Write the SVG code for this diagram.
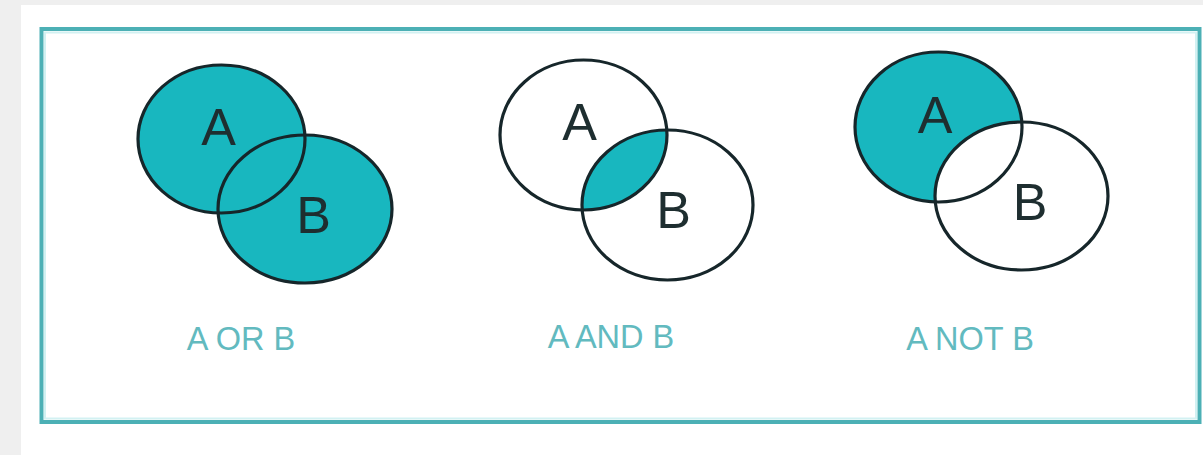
<svg xmlns="http://www.w3.org/2000/svg" width="1203" height="455" viewBox="0 0 1203 455">
<style>
.fill{fill:#18b7bf}
.ring{fill:none;stroke:#16262a;stroke-width:3.2}
.letter{font-family:"Liberation Sans",Arial,sans-serif;font-size:52px;text-anchor:middle;fill:#1e2e30}
.cap{font-family:"Liberation Sans",Arial,sans-serif;font-size:32.5px;text-anchor:middle;fill:#62babf}
</style>
<defs>
<clipPath id="clipAndA"><ellipse cx="583.5" cy="135" rx="83.5" ry="75"/></clipPath>
<clipPath id="clipNotA"><ellipse cx="938.5" cy="127" rx="83.5" ry="75"/></clipPath>
</defs>
<rect x="0" y="0" width="1203" height="455" fill="#efefef"/>
<rect x="21" y="5" width="1182" height="450" fill="#ffffff"/>
<g id="frame">
<rect x="41.5" y="29" width="1158" height="393" fill="none" stroke="#4cb0b5" stroke-width="4"/>
<rect x="45" y="32.5" width="1151" height="386" fill="none" stroke="#d2f1f2" stroke-width="2"/>
</g>
<g id="or">
<ellipse class="fill" cx="221.5" cy="139" rx="83.5" ry="74"/>
<ellipse class="fill" cx="305" cy="209" rx="87" ry="74"/>
<ellipse class="ring" cx="221.5" cy="139" rx="83.5" ry="74"/>
<ellipse class="ring" cx="305" cy="209" rx="87" ry="74"/>
<text class="letter" x="218.5" y="145">A</text>
<text class="letter" x="313.5" y="233">B</text>
<text class="cap" x="241" y="350">A OR B</text>
</g>
<g id="and">
<ellipse class="fill" cx="667.5" cy="205" rx="85.5" ry="75" clip-path="url(#clipAndA)"/>
<ellipse class="ring" cx="583.5" cy="135" rx="83.5" ry="75"/>
<ellipse class="ring" cx="667.5" cy="205" rx="85.5" ry="75"/>
<text class="letter" x="579.5" y="140">A</text>
<text class="letter" x="673.5" y="228">B</text>
<text class="cap" x="611" y="348">A AND B</text>
</g>
<g id="not">
<ellipse class="fill" cx="938.5" cy="127" rx="83.5" ry="75"/>
<ellipse fill="#ffffff" cx="1021.5" cy="196" rx="86.5" ry="74" clip-path="url(#clipNotA)"/>
<ellipse class="ring" cx="938.5" cy="127" rx="83.5" ry="75"/>
<ellipse class="ring" cx="1021.5" cy="196" rx="86.5" ry="74"/>
<text class="letter" x="935" y="133">A</text>
<text class="letter" x="1030" y="220">B</text>
<text class="cap" x="970" y="350">A NOT B</text>
</g>
</svg>
